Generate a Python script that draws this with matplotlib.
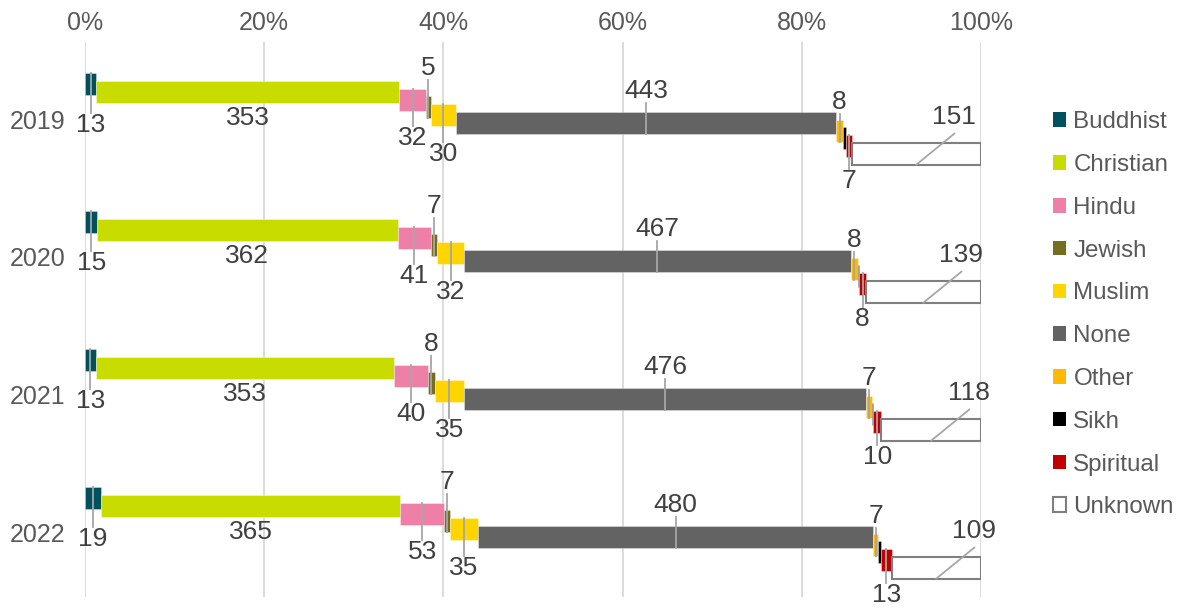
import numpy as np
import matplotlib.pyplot as plt
from matplotlib.patches import Patch

plt.rcParams['font.family'] = ['Liberation Sans', 'DejaVu Sans']

years = ["2019", "2020", "2021", "2022"]
religions = ["Buddhist", "Christian", "Hindu", "Jewish", "Muslim",
             "None", "Other", "Sikh", "Spiritual", "Unknown"]

# counts per religion, one list per year
counts = {
    "2019": [13, 353, 32, 5, 30, 443, 8, 3, 7, 151],
    "2020": [15, 362, 41, 7, 32, 467, 8, 2, 8, 139],
    "2021": [13, 353, 40, 8, 35, 476, 7, 1, 10, 118],
    "2022": [19, 365, 53, 7, 35, 480, 7, 3, 13, 109],
}

colors = ["#00505F", "#C8DC00", "#EE80A7", "#756D22", "#FFD500",
          "#636363", "#FFB900", "#000000", "#C00000", "#FFFFFF"]

# label placement: side of the bar and gap in pixels (None = no label)
label_pos = [("below", 30), ("below", 15), ("below", 27), ("above", 28),
             ("below", 28), ("above", 21), ("above", 18), None,
             ("below", 24), ("above", 26)]

text_col = "#404040"
tick_col = "#595959"
lead_col = "#A6A6A6"

fig = plt.figure(figsize=(11.79, 6.08), dpi=100)
ax = fig.add_axes([0.0721, 0.0181, 0.76, 0.9128])

ylo, yhi = 3.464, -0.558
px = 1 / 138.0          # one pixel in y data units
step = 7.7 * px         # stair step between segments
bh = 22 * px            # bar height

for j, yr in enumerate(years):
    vals = np.array(counts[yr], dtype=float)
    share = vals / vals.sum()
    left = np.concatenate([[0], np.cumsum(share)[:-1]])
    for i, rel in enumerate(religions):
        y = j + (i - 4.5) * step
        if rel == "Unknown":
            ax.barh(y, share[i], left=left[i], height=bh, color="white",
                    edgecolor="#7F7F7F", linewidth=1.5, zorder=3)
        else:
            ax.barh(y, share[i], left=left[i], height=bh, color=colors[i],
                    edgecolor=(1, 1, 1, 0.4), linewidth=0.6, zorder=3)
        lp = label_pos[i]
        if lp is None:
            continue
        side, gap = lp
        cx = left[i] + share[i] / 2
        top, bot = y - bh / 2, y + bh / 2
        if rel == "Unknown":
            lx = cx + 38 / 896
            ly = top - gap * px
            ax.plot([cx, lx], [bot, top - 9 * px], color=lead_col, lw=1.3, zorder=4)
            ax.text(lx, ly, f"{int(vals[i])}", ha="center", va="center",
                    fontsize=19, color=text_col, zorder=5)
            continue
        if side == "below":
            ly = bot + gap * px
            if rel != "Christian":
                ax.plot([cx, cx], [top, ly - 12 * px], color=lead_col, lw=1.3, zorder=4)
        else:
            ly = top - gap * px
            ax.plot([cx, cx], [bot, ly + 12 * px], color=lead_col, lw=1.3, zorder=4)
        ax.text(cx, ly, f"{int(vals[i])}", ha="center", va="center",
                fontsize=19, color=text_col, zorder=5)

ax.set_xlim(0, 1)
ax.set_ylim(ylo, yhi)
ax.set_xticks(np.arange(0, 1.01, 0.2))
ax.set_xticklabels([f"{int(t * 100)}%" for t in np.arange(0, 1.01, 0.2)])
ax.set_yticks(range(len(years)))
ax.set_yticklabels(years)
ax.xaxis.tick_top()
ax.tick_params(axis="x", length=0, pad=5, labelsize=18, labelcolor=tick_col)
ax.tick_params(axis="y", length=0, pad=14, labelsize=18, labelcolor=tick_col)
ax.grid(axis="x", color="#D9D9D9", lw=1.3, zorder=0)
ax.set_axisbelow(True)
for s in ax.spines.values():
    s.set_visible(False)

handles = [Patch(facecolor=c, edgecolor=("#7F7F7F" if r == "Unknown" else c),
                 linewidth=(1.5 if r == "Unknown" else 0))
           for r, c in zip(religions, colors)]
fig.legend(handles, religions, loc="upper left", bbox_to_anchor=(0.893, 0.817),
           frameon=False, fontsize=17.4, labelcolor=tick_col,
           handlelength=0.55, handleheight=0.55, handletextpad=0.3,
           labelspacing=0.86, borderaxespad=0, borderpad=0)

fig.savefig("out.png", dpi=100)
